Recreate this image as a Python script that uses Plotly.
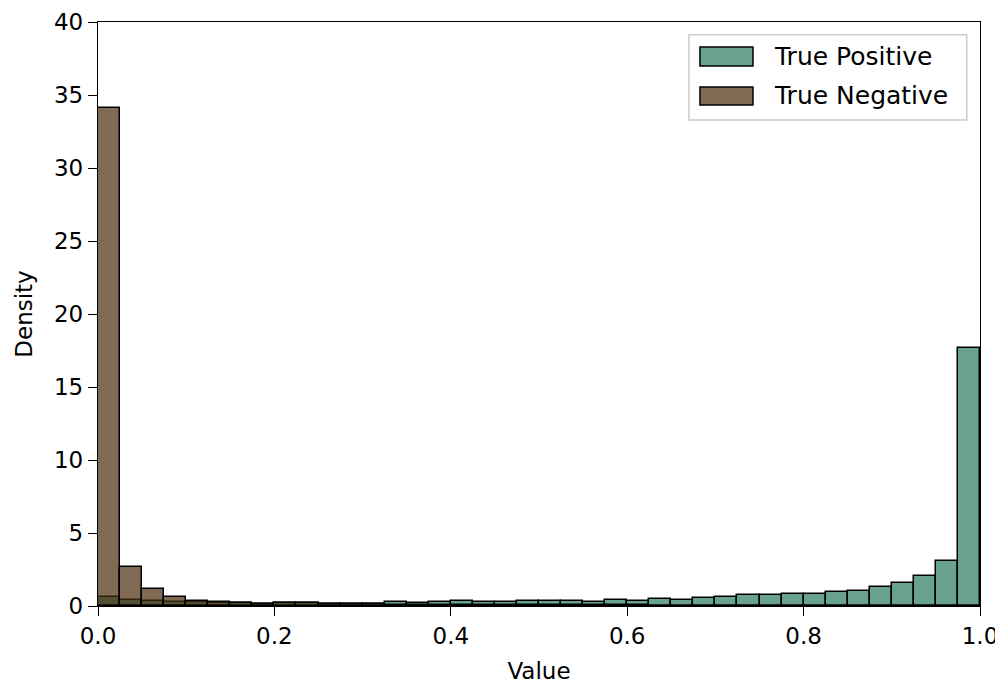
import plotly.graph_objects as go

bin_width = 0.025
bin_left = [i * bin_width for i in range(40)]

true_positive = [0.60, 0.39, 0.34, 0.27, 0.25, 0.22, 0.20, 0.17, 0.20, 0.18,
                 0.17, 0.17, 0.15, 0.30, 0.20, 0.25, 0.32, 0.27, 0.27, 0.32,
                 0.37, 0.32, 0.30, 0.43, 0.34, 0.50, 0.40, 0.52, 0.59, 0.75,
                 0.75, 0.82, 0.84, 0.96, 1.03, 1.28, 1.58, 2.05, 3.10, 17.70]

true_negative = [34.10, 2.67, 1.14, 0.62, 0.34, 0.25, 0.22, 0.16, 0.20, 0.18,
                 0.17, 0.15, 0.12, 0.10, 0.08, 0.07, 0.06, 0.06, 0.05, 0.05,
                 0.05, 0.04, 0.04, 0.04, 0.04, 0.03, 0.03, 0.03, 0.03, 0.03,
                 0.03, 0.03, 0.03, 0.03, 0.03, 0.03, 0.03, 0.03, 0.03, 0.03]

series_names = ["True Positive", "True Negative"]
series_colors = ["rgba(42,124,94,0.7)", "rgba(72,44,12,0.7)"]

centers = [b + bin_width / 2 for b in bin_left]

fig = go.Figure()
for name, vals, col in zip(series_names, [true_positive, true_negative], series_colors):
    fig.add_trace(go.Bar(
        x=centers, y=vals, width=bin_width, name=name, showlegend=False,
        marker=dict(color=col, line=dict(color="black", width=1.5)),
    ))

FS = 23
axis_common = dict(
    showgrid=False, zeroline=False, showline=True, linecolor="black", linewidth=1.3,
    mirror=True, ticks="outside", ticklen=9, tickwidth=1.3, tickcolor="black",
    tickfont=dict(family="DejaVu Sans", size=FS, color="black"), automargin=False,
)

fig.update_layout(
    width=1003, height=683,
    margin=dict(l=90, r=31, t=14, b=85),
    plot_bgcolor="white", paper_bgcolor="white",
    barmode="overlay", bargap=0,
    font=dict(family="DejaVu Sans", size=FS, color="black"),
    showlegend=False,
)
fig.update_xaxes(range=[0, 1], tickvals=[0, 0.2, 0.4, 0.6, 0.8, 1.0],
                 ticktext=["0.0", "0.2", "0.4", "0.6", "0.8", "1.0"],
                 title=dict(text="Value", font=dict(size=FS), standoff=15), **axis_common)
fig.update_yaxes(range=[0, 40], tickvals=[0, 5, 10, 15, 20, 25, 30, 35, 40],
                 title=dict(text="Density", font=dict(size=FS), standoff=14), **axis_common)

# legend drawn as a framed box (paper coordinates)
fig.add_shape(type="rect", xref="paper", yref="paper", x0=0.670, x1=0.985, y0=0.832, y1=0.978,
              line=dict(color="#cccccc", width=1.5), fillcolor="rgba(255,255,255,0.8)", layer="above")
swatch_y = [(0.9247, 0.9572), (0.8579, 0.8887)]
for name, col, (y0, y1) in zip(series_names, series_colors, swatch_y):
    fig.add_shape(type="rect", xref="paper", yref="paper", x0=0.6825, x1=0.7426, y0=y0, y1=y1,
                  line=dict(color="black", width=1.5), fillcolor=col, layer="above")
    fig.add_annotation(xref="paper", yref="paper", x=0.7640, y=(y0 + y1) / 2, text=name,
                       showarrow=False, xanchor="left", yanchor="middle",
                       font=dict(family="DejaVu Sans", size=FS + 2, color="black"))

fig.write_html("out.html")
